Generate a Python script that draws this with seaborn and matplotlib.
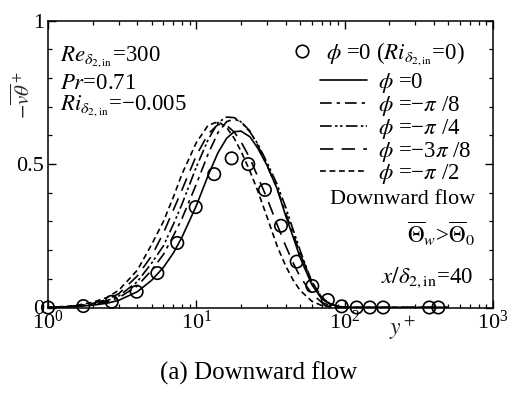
import numpy as np
import pandas as pd
import matplotlib
matplotlib.use("Agg")
import matplotlib.pyplot as plt
from matplotlib.lines import Line2D
from matplotlib.ticker import LogLocator, MultipleLocator, FixedLocator
import seaborn as sns

# ---- data -------------------------------------------------------------
# wall distance y+ at which the computed profiles are tabulated
yplus = [1, 1.5, 2, 2.5, 3, 4, 5, 6, 7, 8, 10, 12, 14, 16, 18, 20, 23, 26,
         30, 35, 40, 45, 50, 60, 70, 80, 90, 100, 120, 150, 200, 300, 500]

# turbulent heat flux -v'theta'+ for each inclination angle
flux_phi_0 = [0, 0.003, 0.008, 0.015, 0.025, 0.055, 0.095, 0.14, 0.19, 0.245,
              0.355, 0.46, 0.54, 0.59, 0.613, 0.615, 0.595, 0.555, 0.495,
              0.415, 0.32, 0.245, 0.175, 0.08, 0.03, 0.011, 0.004, 0.001,
              0, 0, 0, 0, 0]
flux_phi_m_pi8 = [0, 0.004, 0.01, 0.02, 0.034, 0.075, 0.13, 0.185, 0.25, 0.31,
                  0.43, 0.535, 0.61, 0.648, 0.657, 0.648, 0.615, 0.565, 0.495,
                  0.415, 0.33, 0.255, 0.19, 0.09, 0.037, 0.013, 0.004, 0.001,
                  0, 0, 0, 0, 0]
flux_phi_m_pi4 = [0, 0.004, 0.012, 0.024, 0.04, 0.09, 0.155, 0.215, 0.29, 0.36,
                  0.49, 0.585, 0.645, 0.664, 0.662, 0.647, 0.612, 0.57, 0.505,
                  0.43, 0.35, 0.27, 0.2, 0.09, 0.035, 0.012, 0.004, 0.001,
                  0, 0, 0, 0, 0]
flux_phi_m_3pi8 = [0, 0.005, 0.014, 0.028, 0.048, 0.11, 0.18, 0.26, 0.34, 0.41,
                   0.53, 0.605, 0.638, 0.635, 0.612, 0.578, 0.52, 0.455, 0.38,
                   0.29, 0.215, 0.155, 0.108, 0.048, 0.018, 0.006, 0.002, 0,
                   0, 0, 0, 0, 0]
flux_phi_m_pi2 = [0, 0.006, 0.018, 0.035, 0.06, 0.13, 0.22, 0.30, 0.385, 0.465,
                  0.575, 0.635, 0.648, 0.628, 0.59, 0.545, 0.475, 0.405, 0.315,
                  0.215, 0.145, 0.095, 0.06, 0.022, 0.007, 0.002, 0, 0,
                  0, 0, 0, 0, 0]

# reference case without buoyancy (Ri = 0)
ref_yplus = [1.0, 1.73, 2.69, 3.96, 5.46, 7.44, 9.9, 13.2, 17.3, 22.4, 29.0,
             37.2, 47.5, 60.5, 77, 95.5, 120.5, 148, 182, 372, 428]
ref_flux = [0.0, 0.005, 0.02, 0.055, 0.12, 0.225, 0.35, 0.465, 0.52, 0.50,
            0.41, 0.285, 0.16, 0.075, 0.026, 0.004, 0, 0, 0, 0, 0]

case_labels = [r"$\phi$ =0", r"$\phi$ =−$\pi$ /8", r"$\phi$ =−$\pi$ /4",
               r"$\phi$ =−3$\pi$ /8", r"$\phi$ =−$\pi$ /2"]
case_values = [flux_phi_0, flux_phi_m_pi8, flux_phi_m_pi4,
               flux_phi_m_3pi8, flux_phi_m_pi2]

# ---- style ------------------------------------------------------------
sns.set_theme(style="ticks")
plt.rcParams.update({
    "font.family": ["Liberation Serif", "DejaVu Serif"],
    "mathtext.fontset": "stix",
    "axes.linewidth": 1.1,
    "xtick.direction": "in",
    "ytick.direction": "in",
    "xtick.top": True,
    "ytick.right": True,
    "xtick.major.size": 5.5,
    "ytick.major.size": 5.5,
    "xtick.minor.size": 3.0,
    "ytick.minor.size": 3.0,
    "xtick.major.width": 1.0,
    "ytick.major.width": 1.0,
    "xtick.minor.width": 0.9,
    "ytick.minor.width": 0.9,
    "xtick.color": "black",
    "ytick.color": "black",
    "axes.edgecolor": "black",
    "text.color": "black",
})

W, H = 517, 394
fig = plt.figure(figsize=(W / 100, H / 100), dpi=100)


def px(x, y):
    """pixel position (from top-left) -> figure fraction"""
    return x / W, 1 - y / H


ax = fig.add_axes([48 / W, (H - 307.5) / H, 445 / W, 286.8 / H])

rows = []
for lab, vals in zip(case_labels, case_values):
    for yp, v in zip(yplus, vals):
        rows.append({"yplus": yp, "flux": v, "case": lab})
df = pd.DataFrame(rows)

dash_specs = {
    case_labels[0]: "",
    case_labels[1]: (7, 3, 2, 3),
    case_labels[2]: (7, 2, 1.5, 1.5, 1.5, 2),
    case_labels[3]: (8, 5),
    case_labels[4]: (3.5, 2.2),
}

sns.lineplot(data=df, x="yplus", y="flux", style="case",
             style_order=case_labels, dashes=dash_specs, color="black",
             linewidth=1.2, estimator=None, sort=False, legend=False, ax=ax)

ref_df = pd.DataFrame({"yplus": ref_yplus, "flux": ref_flux})
sns.scatterplot(data=ref_df, x="yplus", y="flux", marker="o", s=80,
                facecolor="none", edgecolor="black", linewidth=1.2,
                clip_on=False, zorder=5, ax=ax)

ax.set_xscale("log")
ax.set_xlim(1, 1000)
ax.set_ylim(0, 1)
ax.xaxis.set_major_locator(LogLocator(base=10, numticks=10))
ax.xaxis.set_minor_locator(LogLocator(base=10, subs=np.arange(2, 10), numticks=10))
ax.yaxis.set_major_locator(FixedLocator([0, 0.5, 1]))
ax.yaxis.set_minor_locator(MultipleLocator(0.1))
ax.set_yticklabels(["0", "0.5", "1"])
ax.tick_params(axis="both", which="major", labelsize=16, pad=3)
ax.tick_params(axis="x", which="major", pad=2)

ax.set_xlabel(r"$y^+$", fontsize=17)
ax.xaxis.set_label_coords(0.798, -0.025)
ax.set_ylabel(r"$-\overline{v\theta}^+$", fontsize=15)
ax.yaxis.set_label_coords(-0.03, 0.741)

# parameters of the run
fs = 16.5
fig.text(*px(60, 61), r"$Re_{\delta_{2,\mathrm{in}}}$=300", fontsize=fs, va="baseline")
fig.text(*px(60, 89), r"$Pr$=0.71", fontsize=fs, va="baseline")
fig.text(*px(60, 110), r"$Ri_{\delta_{2,\mathrm{in}}}$=−0.005", fontsize=fs, va="baseline")

# legends
ref_handle = Line2D([], [], linestyle="none", marker="o", markersize=9,
                    markerfacecolor="none", markeredgecolor="black",
                    markeredgewidth=1.2)
leg1 = ax.legend([ref_handle], [r"$\phi$ =0 ($Ri_{\delta_{2,\mathrm{in}}}$=0)"],
                 loc="upper left", bbox_to_anchor=px(291, 41),
                 bbox_transform=fig.transFigure, frameon=False, fontsize=fs,
                 handlelength=1.0, handletextpad=0.52, borderpad=0,
                 borderaxespad=0)
ax.add_artist(leg1)

line_handles = []
for lab in case_labels:
    d = dash_specs[lab]
    h = Line2D([], [], color="black", linewidth=1.2)
    if d:
        h.set_dashes(d)
    line_handles.append(h)
ax.legend(line_handles, case_labels, loc="upper left",
          bbox_to_anchor=px(320, 71), bbox_transform=fig.transFigure,
          frameon=False, fontsize=fs, handlelength=2.05, handletextpad=0.48,
          labelspacing=-0.05, borderpad=0, borderaxespad=0)

fig.text(*px(475, 200), "Downward flow", fontsize=16, ha="right", va="center")
fig.text(*px(475, 234), r"$\overline{\Theta}_w$>$\overline{\Theta}_0$",
         fontsize=fs, ha="right", va="center")
fig.text(*px(473, 278), r"$x/\delta_{2,\mathrm{in}}$=40", fontsize=fs,
         ha="right", va="center")

fig.text(*px(258.5, 373), "(a) Downward flow", fontsize=18, ha="center",
         va="center")

fig.savefig("out.png", dpi=100)
